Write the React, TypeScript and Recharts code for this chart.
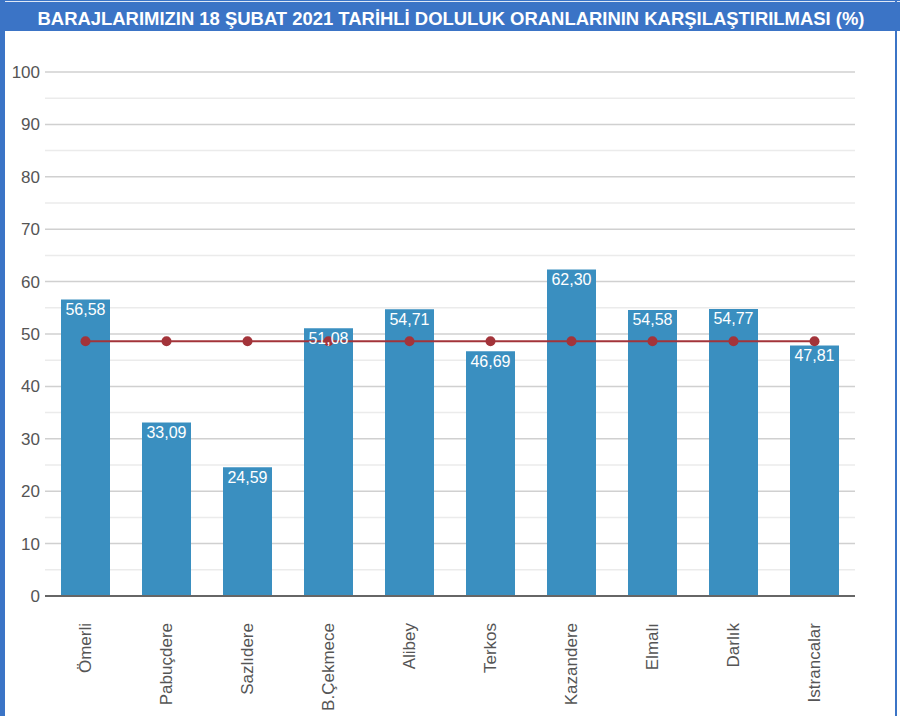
import React from 'react';
import { ComposedChart, Bar, Line, XAxis, YAxis, CartesianGrid, LabelList } from 'recharts';

const dams = ['Ömerli', 'Pabuçdere', 'Sazlıdere', 'B.Çekmece', 'Alibey', 'Terkos', 'Kazandere', 'Elmalı', 'Darlık', 'Istrancalar'];
const fillRates = [56.58, 33.09, 24.59, 51.08, 54.71, 46.69, 62.3, 54.58, 54.77, 47.81];
const averageRates = [48.62, 48.62, 48.62, 48.62, 48.62, 48.62, 48.62, 48.62, 48.62, 48.62];
const gridTicks = [0, 5, 10, 15, 20, 25, 30, 35, 40, 45, 50, 55, 60, 65, 70, 75, 80, 85, 90, 95, 100];
const title = 'BARAJLARIMIZIN 18 ŞUBAT 2021 TARİHLİ DOLULUK ORANLARININ KARŞILAŞTIRILMASI (%)';

const data = dams.map((name, i) => ({ name, value: fillRates[i], avg: averageRates[i] }));

const FONT = 'Arial, "Liberation Sans", Helvetica, sans-serif';

const XTick = (props: any) => {
  const { x, y, payload } = props;
  return (
    <g transform={`translate(${x},${y})`}>
      <text transform="rotate(-90)" x={0} y={0} dy="0.35em" textAnchor="end" fill="#555" fontSize={17} fontFamily={FONT}>
        {payload.value}
      </text>
    </g>
  );
};

const YTick = (props: any) => {
  const { x, y, payload } = props;
  if (payload.value % 10 !== 0) return <g />;
  return (
    <text x={x} y={y} dy="0.35em" textAnchor="end" fill="#555" fontSize={17} fontFamily={FONT}>
      {payload.value}
    </text>
  );
};

const GridLine = (props: any) => {
  const { x1, x2, y1, y2, index } = props;
  const major = index % 2 === 0;
  return <line x1={x1} x2={x2} y1={y1} y2={y2} stroke={major ? '#d0d0d0' : '#ebebeb'} strokeWidth={1.5} />;
};

const fmt = (v: any) => Number(v).toFixed(2).replace('.', ',');

export default function App() {
  return (
    <div style={{ position: 'absolute', left: 0, top: 0, width: 900, height: 716, background: '#fff', overflow: 'hidden' }}>
      <div style={{ position: 'absolute', left: 0, top: 0, width: 900, height: 31, background: '#3b74c6' }} />
      <div style={{ position: 'absolute', left: 0, top: 1, width: 900, height: 1, background: '#dfe8f6' }} />
      <div style={{ position: 'absolute', left: 0, top: 0, width: 5, height: 716, background: '#3b74c6' }} />
      <div style={{ position: 'absolute', left: 895, top: 0, width: 2, height: 716, background: '#3b74c6' }} />
      <svg style={{ position: 'absolute', left: 0, top: 0 }} width={900} height={31}>
        <text x={451} y={25} textAnchor="middle" fill="#fff" fontWeight="bold" fontSize={18} fontFamily={FONT}
          textLength={827} lengthAdjust="spacingAndGlyphs">{title}</text>
      </svg>
      <div style={{ position: 'absolute', left: 0, top: 31 }}>
        <ComposedChart width={900} height={685} data={data} margin={{ top: 41, right: 45, left: 0, bottom: 0 }}>
          <CartesianGrid vertical={false} horizontal={(p: any) => <GridLine key={`g-${p.index}`} {...p} />} />
          <XAxis dataKey="name" axisLine={{ stroke: '#666', strokeWidth: 2 }} tickLine={false} height={120}
            interval={0} tick={<XTick />} tickMargin={21} />
          <YAxis domain={[0, 100]} ticks={gridTicks} interval={0} width={45} axisLine={false} tickLine={false} tickSize={0}
            tickMargin={5} tick={<YTick />} />
          <Bar dataKey="value" fill="#3a8fc0" barSize={49} isAnimationActive={false}>
            <LabelList dataKey="value" position="insideTop" offset={4} formatter={fmt}
              style={{ fill: '#fff', fontSize: 16, fontFamily: FONT }} />
          </Bar>
          <Line dataKey="avg" stroke="#a3343a" strokeWidth={2} dot={{ r: 5, fill: '#a3343a', stroke: '#a3343a', strokeWidth: 0 }}
            isAnimationActive={false} />
        </ComposedChart>
      </div>
    </div>
  );
}
